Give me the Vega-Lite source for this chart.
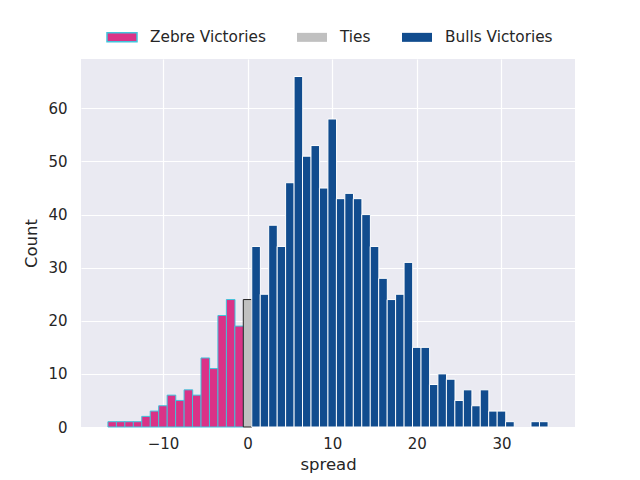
{
  "$schema": "https://vega.github.io/schema/vega-lite/v6.json",
  "width": 494,
  "height": 368,
  "autosize": {"type": "none"},
  "padding": {"left": 81, "top": 59, "right": 65, "bottom": 53},
  "background": "white",
  "config": {
    "font": "DejaVu Sans",
    "view": {"fill": "#eaeaf2", "stroke": null},
    "axis": {
      "domain": false,
      "ticks": false,
      "grid": true,
      "gridColor": "white",
      "gridWidth": 1.2,
      "labelFont": "DejaVu Sans",
      "labelFontSize": 15,
      "labelColor": "#262626",
      "titleFont": "DejaVu Sans",
      "titleFontSize": 16.5,
      "titleFontWeight": "normal",
      "titleColor": "#262626"
    }
  },
  "data": {
    "values": [
      {"spread": -16, "count": 1, "outcome": "Zebre Victories"},
      {"spread": -15, "count": 1, "outcome": "Zebre Victories"},
      {"spread": -14, "count": 1, "outcome": "Zebre Victories"},
      {"spread": -13, "count": 1, "outcome": "Zebre Victories"},
      {"spread": -12, "count": 2, "outcome": "Zebre Victories"},
      {"spread": -11, "count": 3, "outcome": "Zebre Victories"},
      {"spread": -10, "count": 4, "outcome": "Zebre Victories"},
      {"spread": -9, "count": 6, "outcome": "Zebre Victories"},
      {"spread": -8, "count": 5, "outcome": "Zebre Victories"},
      {"spread": -7, "count": 7, "outcome": "Zebre Victories"},
      {"spread": -6, "count": 6, "outcome": "Zebre Victories"},
      {"spread": -5, "count": 13, "outcome": "Zebre Victories"},
      {"spread": -4, "count": 11, "outcome": "Zebre Victories"},
      {"spread": -3, "count": 21, "outcome": "Zebre Victories"},
      {"spread": -2, "count": 24, "outcome": "Zebre Victories"},
      {"spread": -1, "count": 19, "outcome": "Zebre Victories"},
      {"spread": 0, "count": 24, "outcome": "Ties"},
      {"spread": 1, "count": 34, "outcome": "Bulls Victories"},
      {"spread": 2, "count": 25, "outcome": "Bulls Victories"},
      {"spread": 3, "count": 38, "outcome": "Bulls Victories"},
      {"spread": 4, "count": 34, "outcome": "Bulls Victories"},
      {"spread": 5, "count": 46, "outcome": "Bulls Victories"},
      {"spread": 6, "count": 66, "outcome": "Bulls Victories"},
      {"spread": 7, "count": 51, "outcome": "Bulls Victories"},
      {"spread": 8, "count": 53, "outcome": "Bulls Victories"},
      {"spread": 9, "count": 45, "outcome": "Bulls Victories"},
      {"spread": 10, "count": 58, "outcome": "Bulls Victories"},
      {"spread": 11, "count": 43, "outcome": "Bulls Victories"},
      {"spread": 12, "count": 44, "outcome": "Bulls Victories"},
      {"spread": 13, "count": 43, "outcome": "Bulls Victories"},
      {"spread": 14, "count": 40, "outcome": "Bulls Victories"},
      {"spread": 15, "count": 34, "outcome": "Bulls Victories"},
      {"spread": 16, "count": 28, "outcome": "Bulls Victories"},
      {"spread": 17, "count": 24, "outcome": "Bulls Victories"},
      {"spread": 18, "count": 25, "outcome": "Bulls Victories"},
      {"spread": 19, "count": 31, "outcome": "Bulls Victories"},
      {"spread": 20, "count": 15, "outcome": "Bulls Victories"},
      {"spread": 21, "count": 15, "outcome": "Bulls Victories"},
      {"spread": 22, "count": 8, "outcome": "Bulls Victories"},
      {"spread": 23, "count": 10, "outcome": "Bulls Victories"},
      {"spread": 24, "count": 9, "outcome": "Bulls Victories"},
      {"spread": 25, "count": 5, "outcome": "Bulls Victories"},
      {"spread": 26, "count": 7, "outcome": "Bulls Victories"},
      {"spread": 27, "count": 4, "outcome": "Bulls Victories"},
      {"spread": 28, "count": 7, "outcome": "Bulls Victories"},
      {"spread": 29, "count": 3, "outcome": "Bulls Victories"},
      {"spread": 30, "count": 3, "outcome": "Bulls Victories"},
      {"spread": 31, "count": 1, "outcome": "Bulls Victories"},
      {"spread": 34, "count": 1, "outcome": "Bulls Victories"},
      {"spread": 35, "count": 1, "outcome": "Bulls Victories"}
    ]
  },
  "mark": {"type": "bar", "width": 8.64, "strokeWidth": 1},
  "encoding": {
    "x": {
      "field": "spread",
      "type": "quantitative",
      "title": "spread",
      "scale": {"domain": [-19.1, 38.1], "nice": false, "zero": false},
      "axis": {"values": [-10, 0, 10, 20, 30], "labelPadding": 9, "titlePadding": 5}
    },
    "y": {
      "field": "count",
      "type": "quantitative",
      "title": "Count",
      "scale": {"domain": [0, 69.3], "nice": false},
      "axis": {"values": [0, 10, 20, 30, 40, 50, 60], "labelPadding": 14, "titlePadding": 8}
    },
    "fill": {
      "field": "outcome",
      "type": "nominal",
      "scale": {
        "domain": ["Zebre Victories", "Ties", "Bulls Victories"],
        "range": ["#da3287", "#c0c0c0", "#114c8e"]
      },
      "legend": {
        "title": null,
        "orient": "none",
        "direction": "horizontal",
        "legendX": 25,
        "legendY": -38,
        "symbolType": "M-1,-0.3H1V0.3H-1Z",
        "symbolSize": 900,
        "symbolOpacity": 1,
        "symbolStrokeColor": "#40c4dc",
        "symbolStrokeWidth": 1.5,
        "labelFontSize": 15.3,
        "labelFont": "DejaVu Sans",
        "labelColor": "#262626",
        "labelOffset": 12,
        "columnPadding": 30,
        "encode": {
          "symbols": {
            "update": {
              "strokeOpacity": {"signal": "datum.label === 'Zebre Victories' ? 1 : 0"}
            }
          }
        }
      }
    },
    "stroke": {
      "condition": [
        {"test": "datum.outcome === 'Zebre Victories'", "value": "#40c4dc"},
        {"test": "datum.outcome === 'Ties'", "value": "#222222"}
      ],
      "value": "#ffffff"
    }
  }
}
